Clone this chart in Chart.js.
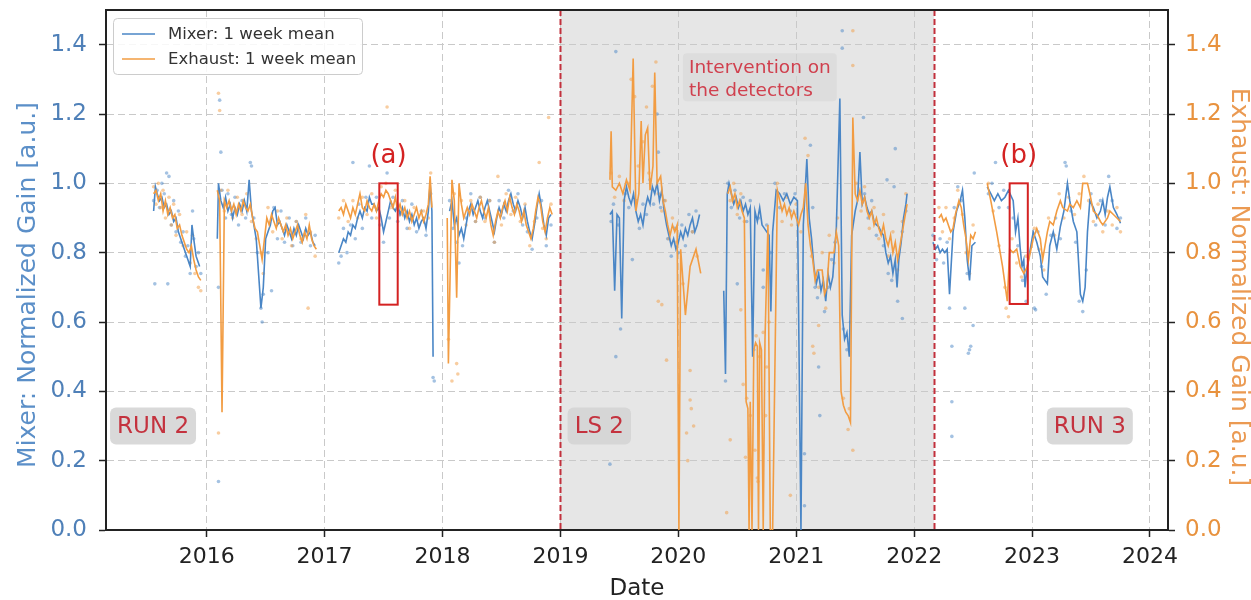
<!DOCTYPE html>
<html>
<head>
<meta charset="utf-8">
<script src="https://cdn.jsdelivr.net/npm/chart.js@4/dist/chart.umd.min.js"></script>
<style>
  html, body { margin: 0; padding: 0; background: #ffffff; }
  #wrap { width: 1251px; height: 600px; position: relative; }
</style>
</head>
<body>
<div id="wrap"><canvas id="gain" width="1251" height="600"></canvas></div>
<script>
// ---- weekly means, [decimal year, normalized gain] ----
const mixerMean2015 = [[2015.55,0.92],[2015.565,0.99],[2015.58,0.97],[2015.60,0.95],[2015.62,0.96],[2015.64,0.93],[2015.66,0.94],[2015.68,0.91],[2015.70,0.92],[2015.72,0.89],[2015.74,0.90],[2015.76,0.86],[2015.78,0.84],[2015.80,0.82],[2015.82,0.80],[2015.84,0.78],[2015.86,0.76],[2015.875,0.88],[2015.89,0.84],[2015.91,0.79],[2015.93,0.77],[2015.94,0.76]];
const mixerMean2016 = [[2016.09,0.84],[2016.10,1.0],[2016.12,0.95],[2016.14,0.93],[2016.16,0.96],[2016.18,0.92],[2016.20,0.94],[2016.22,0.90],[2016.24,0.93],[2016.26,0.91],[2016.28,0.94],[2016.30,0.92],[2016.32,0.95],[2016.34,0.92],[2016.36,1.01],[2016.38,0.92],[2016.40,0.88],[2016.42,0.84],[2016.44,0.74],[2016.46,0.64],[2016.48,0.70],[2016.50,0.84],[2016.52,0.86],[2016.54,0.88],[2016.56,0.92],[2016.58,0.93],[2016.60,0.88],[2016.62,0.89],[2016.64,0.87],[2016.66,0.85],[2016.68,0.88],[2016.70,0.86],[2016.72,0.84],[2016.74,0.87],[2016.76,0.85],[2016.78,0.88],[2016.80,0.86],[2016.82,0.84],[2016.84,0.87],[2016.86,0.85],[2016.88,0.86],[2016.90,0.83],[2016.92,0.82]];
const mixerMean2017 = [[2017.12,0.80],[2017.14,0.82],[2017.16,0.84],[2017.18,0.83],[2017.20,0.86],[2017.22,0.85],[2017.24,0.88],[2017.26,0.87],[2017.28,0.90],[2017.30,0.92],[2017.32,0.90],[2017.34,0.93],[2017.36,0.92],[2017.38,0.96],[2017.40,0.94],[2017.42,0.94],[2017.44,0.92],[2017.46,0.93],[2017.48,0.90],[2017.50,0.86],[2017.52,0.89],[2017.54,0.92],[2017.56,0.95],[2017.58,0.93],[2017.60,0.92],[2017.62,0.94],[2017.64,0.91],[2017.66,0.93],[2017.68,0.90],[2017.70,0.92],[2017.72,0.89],[2017.74,0.91],[2017.76,0.88],[2017.78,0.90],[2017.80,0.87],[2017.82,0.89],[2017.84,0.90],[2017.86,0.87],[2017.88,0.92],[2017.895,1.00],[2017.91,0.92],[2017.92,0.50]];
const mixerMean2018 = [[2018.06,0.92],[2018.08,0.95],[2018.10,0.88],[2018.12,0.90],[2018.14,0.85],[2018.16,0.87],[2018.18,0.84],[2018.20,0.88],[2018.22,0.92],[2018.24,0.94],[2018.26,0.91],[2018.28,0.93],[2018.30,0.95],[2018.32,0.92],[2018.34,0.90],[2018.36,0.93],[2018.38,0.95],[2018.40,0.92],[2018.42,0.89],[2018.44,0.86],[2018.46,0.90],[2018.48,0.93],[2018.50,0.91],[2018.52,0.94],[2018.54,0.92],[2018.56,0.95],[2018.58,0.97],[2018.60,0.94],[2018.62,0.92],[2018.64,0.95],[2018.66,0.93],[2018.68,0.90],[2018.70,0.93],[2018.72,0.89],[2018.74,0.86],[2018.76,0.84],[2018.78,0.88],[2018.80,0.93],[2018.82,0.97],[2018.84,0.93],[2018.86,0.88],[2018.88,0.85],[2018.90,0.90],[2018.92,0.91]];
const mixerMean2019 = [[2019.42,0.91],[2019.44,0.92],[2019.46,0.69],[2019.48,0.91],[2019.50,0.90],[2019.52,0.61],[2019.54,0.95],[2019.56,0.99],[2019.58,0.96],[2019.60,0.94],[2019.62,0.97],[2019.64,0.92],[2019.66,0.89],[2019.68,0.91],[2019.70,0.88],[2019.72,0.93],[2019.74,0.96],[2019.76,0.94],[2019.78,0.99],[2019.80,0.97],[2019.82,1.0],[2019.84,0.95],[2019.86,0.98],[2019.88,0.92],[2019.90,0.88],[2019.92,0.85],[2019.94,0.82],[2019.96,0.84],[2019.98,0.81],[2020.00,0.83],[2020.02,0.86],[2020.04,0.84],[2020.06,0.87],[2020.08,0.85],[2020.10,0.88],[2020.12,0.90],[2020.14,0.86],[2020.16,0.88],[2020.18,0.91]];
const mixerMean2020 = [[2020.385,0.69],[2020.40,0.45],[2020.415,0.97],[2020.43,1.0],[2020.45,0.97],[2020.47,0.94],[2020.49,0.96],[2020.51,0.93],[2020.53,0.95],[2020.55,0.92],[2020.57,0.94],[2020.59,0.91],[2020.61,0.93],[2020.63,0.50],[2020.65,0.92],[2020.67,0.89],[2020.69,0.93],[2020.71,0.88],[2020.73,0.87],[2020.75,0.86],[2020.77,0.85],[2020.785,0.63],[2020.80,0.86],[2020.83,0.98],[2020.86,0.97],[2020.89,0.95],[2020.92,0.97],[2020.95,0.94],[2020.98,0.96],[2021.01,0.95],[2021.04,0.0],[2021.06,0.88],[2021.09,1.07],[2021.11,0.90],[2021.13,0.84],[2021.15,0.76],[2021.17,0.71],[2021.19,0.74],[2021.21,0.69],[2021.23,0.72],[2021.25,0.66],[2021.27,0.74],[2021.29,0.70],[2021.31,0.73],[2021.34,0.87],[2021.37,1.245],[2021.39,0.62],[2021.41,0.55],[2021.43,0.57],[2021.45,0.50],[2021.47,0.85],[2021.50,0.92],[2021.52,0.95],[2021.54,1.09],[2021.56,0.94],[2021.58,0.96],[2021.60,0.93],[2021.62,0.91],[2021.64,0.92],[2021.66,0.89],[2021.68,0.88],[2021.70,0.875],[2021.72,0.86],[2021.74,0.85],[2021.76,0.80],[2021.78,0.77],[2021.80,0.79],[2021.82,0.74],[2021.84,0.78],[2021.855,0.70],[2021.87,0.78],[2021.89,0.83],[2021.91,0.90],[2021.93,0.94],[2021.94,0.97]];
const mixerMean2022a = [[2022.16,0.83],[2022.18,0.81],[2022.20,0.82],[2022.22,0.80],[2022.24,0.81],[2022.26,0.80],[2022.28,0.81],[2022.30,0.68],[2022.33,0.86],[2022.36,0.92],[2022.39,0.95],[2022.41,0.98],[2022.43,0.90],[2022.45,0.78],[2022.47,0.72],[2022.49,0.82],[2022.52,0.83]];
const mixerMean2022b = [[2022.62,0.99],[2022.65,0.97],[2022.68,0.95],[2022.71,0.97],[2022.74,0.95],[2022.77,0.96],[2022.80,0.98],[2022.84,0.95],[2022.86,0.86],[2022.88,0.90],[2022.90,0.81],[2022.915,0.76],[2022.93,0.78],[2022.94,0.70],[2022.96,0.76],[2023.01,0.86],[2023.04,0.83],[2023.07,0.79],[2023.09,0.73],[2023.13,0.71],[2023.15,0.82],[2023.18,0.86],[2023.21,0.81],[2023.24,0.875],[2023.27,0.92],[2023.30,1.0],[2023.32,0.95],[2023.35,0.89],[2023.38,0.86],[2023.41,0.68],[2023.43,0.66],[2023.45,0.70],[2023.47,0.86],[2023.49,0.95],[2023.52,0.93],[2023.55,0.90],[2023.58,0.92],[2023.60,0.95],[2023.62,0.91],[2023.64,0.96],[2023.66,0.99],[2023.69,0.93],[2023.72,0.91],[2023.75,0.885]];

const exhaustMean2015 = [[2015.55,0.97],[2015.57,0.98],[2015.59,0.95],[2015.61,0.97],[2015.63,0.92],[2015.65,0.95],[2015.67,0.91],[2015.69,0.93],[2015.71,0.90],[2015.73,0.91],[2015.75,0.87],[2015.77,0.88],[2015.79,0.85],[2015.81,0.83],[2015.83,0.81],[2015.85,0.80],[2015.87,0.82],[2015.89,0.78],[2015.91,0.75],[2015.93,0.73],[2015.95,0.72]];
const exhaustMean2016 = [[2016.09,0.98],[2016.11,0.95],[2016.13,0.34],[2016.15,0.95],[2016.17,0.93],[2016.19,0.95],[2016.21,0.92],[2016.23,0.94],[2016.25,0.91],[2016.27,0.94],[2016.29,0.92],[2016.31,0.95],[2016.33,0.93],[2016.35,0.92],[2016.37,0.94],[2016.39,0.90],[2016.41,0.87],[2016.43,0.86],[2016.45,0.82],[2016.47,0.78],[2016.49,0.84],[2016.51,0.90],[2016.53,0.88],[2016.55,0.91],[2016.57,0.89],[2016.59,0.87],[2016.61,0.90],[2016.63,0.88],[2016.65,0.86],[2016.67,0.88],[2016.69,0.85],[2016.71,0.87],[2016.73,0.84],[2016.75,0.86],[2016.77,0.88],[2016.79,0.85],[2016.81,0.83],[2016.83,0.86],[2016.85,0.84],[2016.87,0.88],[2016.89,0.84],[2016.91,0.82],[2016.93,0.81]];
const exhaustMean2017 = [[2017.12,0.92],[2017.14,0.93],[2017.16,0.91],[2017.18,0.94],[2017.20,0.92],[2017.22,0.90],[2017.24,0.93],[2017.26,0.91],[2017.28,0.94],[2017.30,0.97],[2017.32,0.93],[2017.34,0.92],[2017.36,0.95],[2017.38,0.93],[2017.40,0.92],[2017.42,0.94],[2017.44,0.92],[2017.46,0.95],[2017.48,0.97],[2017.50,0.96],[2017.52,0.98],[2017.54,0.97],[2017.56,0.95],[2017.58,0.93],[2017.60,0.96],[2017.62,0.92],[2017.64,0.94],[2017.66,0.91],[2017.68,0.93],[2017.70,0.90],[2017.72,0.92],[2017.74,0.89],[2017.76,0.91],[2017.78,0.93],[2017.80,0.90],[2017.82,0.92],[2017.84,0.89],[2017.86,0.91],[2017.88,0.94],[2017.895,1.02],[2017.91,0.93]];
const exhaustMean2018 = [[2018.04,0.90],[2018.05,0.48],[2018.08,1.01],[2018.10,0.95],[2018.12,0.67],[2018.14,1.00],[2018.16,0.94],[2018.18,0.90],[2018.21,0.93],[2018.23,0.91],[2018.25,0.94],[2018.27,0.92],[2018.29,0.90],[2018.31,0.93],[2018.33,0.95],[2018.35,0.92],[2018.37,0.90],[2018.39,0.93],[2018.41,0.88],[2018.43,0.85],[2018.45,0.89],[2018.47,0.92],[2018.49,0.90],[2018.51,0.93],[2018.53,0.95],[2018.55,0.92],[2018.57,0.96],[2018.59,0.93],[2018.61,0.91],[2018.63,0.94],[2018.65,0.92],[2018.67,0.89],[2018.69,0.92],[2018.71,0.88],[2018.73,0.86],[2018.75,0.84],[2018.77,0.87],[2018.79,0.92],[2018.81,0.96],[2018.83,0.94],[2018.85,0.89],[2018.87,0.86],[2018.89,0.90],[2018.91,0.93],[2018.93,0.91]];
const exhaustMean2019 = [[2019.42,1.01],[2019.43,1.15],[2019.44,0.99],[2019.47,0.98],[2019.50,1.0],[2019.53,0.97],[2019.56,1.01],[2019.59,0.98],[2019.617,1.36],[2019.64,0.92],[2019.665,0.97],[2019.685,1.18],[2019.70,1.0],[2019.72,1.14],[2019.74,1.16],[2019.76,0.98],[2019.785,1.05],[2019.80,1.32],[2019.82,1.0],[2019.85,1.02],[2019.87,0.95],[2019.89,0.92],[2019.91,0.88],[2019.93,0.85],[2019.95,0.88],[2019.97,0.86],[2019.99,0.88],[2020.005,0.0],[2020.02,0.81],[2020.06,0.62],[2020.10,0.76],[2020.15,0.81],[2020.19,0.74]];
const exhaustMean2020 = [[2020.42,0.97],[2020.44,0.99],[2020.46,0.95],[2020.48,0.97],[2020.50,0.93],[2020.52,0.95],[2020.54,0.92],[2020.56,0.90],[2020.575,0.37],[2020.59,0.35],[2020.60,0.0],[2020.61,0.37],[2020.625,0.0],[2020.64,0.52],[2020.655,0.54],[2020.67,0.53],[2020.68,0.0],[2020.69,0.54],[2020.705,0.52],[2020.72,0.0],[2020.735,0.55],[2020.76,0.88],[2020.78,0.0],[2020.80,0.0],[2020.84,0.98],[2020.86,0.95],[2020.88,0.92],[2020.90,0.94],[2020.92,0.91],[2020.94,0.93],[2020.96,0.90],[2020.98,0.92],[2021.00,0.90],[2021.02,0.88],[2021.04,0.91],[2021.06,0.93],[2021.08,1.0],[2021.10,0.88],[2021.12,0.82],[2021.14,0.78],[2021.16,0.72],[2021.18,0.75],[2021.20,0.75],[2021.22,0.75],[2021.24,0.68],[2021.26,0.70],[2021.28,0.80],[2021.30,0.80],[2021.32,0.80],[2021.34,0.86],[2021.36,0.82],[2021.38,0.40],[2021.40,0.36],[2021.42,0.34],[2021.44,0.33],[2021.46,0.31],[2021.48,1.19],[2021.50,0.97],[2021.52,0.95],[2021.54,0.98],[2021.56,0.94],[2021.58,0.96],[2021.60,0.92],[2021.62,0.90],[2021.64,0.92],[2021.66,0.88],[2021.68,0.90],[2021.70,0.87],[2021.72,0.85],[2021.74,0.88],[2021.76,0.84],[2021.78,0.82],[2021.80,0.85],[2021.82,0.80],[2021.84,0.83],[2021.86,0.78],[2021.88,0.82],[2021.90,0.86],[2021.92,0.90],[2021.94,0.94]];
const exhaustMean2022a = [[2022.21,0.90],[2022.23,0.91],[2022.25,0.89],[2022.27,0.90],[2022.29,0.88],[2022.31,0.86],[2022.33,0.87],[2022.35,0.91],[2022.38,0.95],[2022.40,0.93],[2022.42,0.88],[2022.44,0.84],[2022.46,0.78],[2022.48,0.85],[2022.50,0.84],[2022.52,0.86]];
const exhaustMean2022b = [[2022.62,1.0],[2022.65,0.95],[2022.70,0.86],[2022.75,0.76],[2022.79,0.66],[2022.81,0.81],[2022.84,0.80],[2022.87,0.81],[2022.90,0.76],[2022.93,0.74],[2022.96,0.76],[2023.01,0.84],[2023.04,0.87],[2023.07,0.84],[2023.09,0.78],[2023.13,0.86],[2023.15,0.89],[2023.18,0.88],[2023.21,0.92],[2023.24,0.95],[2023.26,0.93],[2023.30,0.92],[2023.32,0.94],[2023.35,0.93],[2023.38,0.95],[2023.41,0.93],[2023.43,1.0],[2023.47,1.0],[2023.49,0.97],[2023.52,0.92],[2023.55,0.91],[2023.58,0.89],[2023.60,0.88],[2023.64,0.90],[2023.66,0.92],[2023.69,0.91],[2023.72,0.90],[2023.75,0.89]];

// ---- single measurements, [decimal year, normalized gain] ----
const mixerDaily = [
  [2015.55,0.95],[2015.56,0.71],[2015.58,0.98],[2015.60,0.93],[2015.62,1.0],[2015.64,0.97],[2015.66,1.03],[2015.67,0.71],[2015.68,1.02],[2015.70,0.88],[2015.72,0.95],[2015.74,0.86],[2015.76,0.92],[2015.78,0.83],[2015.80,0.86],[2015.82,0.79],[2015.84,0.82],[2015.86,0.74],[2015.88,0.92],[2015.89,0.84],[2015.91,0.76],[2015.93,0.80],[2015.95,0.74],
  [2016.10,0.14],[2016.10,0.70],[2016.11,1.24],[2016.12,1.09],[2016.13,0.98],[2016.16,0.90],[2016.18,0.97],[2016.21,0.91],[2016.24,0.96],[2016.27,0.88],[2016.30,0.95],[2016.33,0.90],[2016.37,1.06],[2016.38,1.05],[2016.40,0.90],[2016.43,0.80],[2016.46,0.64],[2016.47,0.60],[2016.48,0.68],[2016.52,0.80],[2016.55,0.69],[2016.57,0.93],[2016.60,0.84],[2016.63,0.92],[2016.66,0.83],[2016.70,0.90],[2016.73,0.82],[2016.76,0.89],[2016.80,0.83],[2016.84,0.90],[2016.88,0.82],[2016.92,0.85],
  [2017.12,0.77],[2017.14,0.79],[2017.16,0.87],[2017.19,0.80],[2017.22,0.88],[2017.24,1.06],[2017.26,0.84],[2017.29,0.94],[2017.32,0.87],[2017.35,0.96],[2017.38,1.05],[2017.40,0.90],[2017.44,0.96],[2017.47,0.88],[2017.50,0.83],[2017.53,1.03],[2017.55,0.90],[2017.58,0.96],[2017.62,0.89],[2017.66,0.95],[2017.70,0.87],[2017.74,0.94],[2017.78,0.86],[2017.82,0.92],[2017.86,0.85],[2017.90,0.97],[2017.92,0.44],[2017.93,0.43],
  [2018.06,0.95],[2018.09,0.87],[2018.12,0.83],[2018.14,0.77],[2018.17,0.82],[2018.20,0.90],[2018.24,0.97],[2018.28,0.89],[2018.32,0.96],[2018.36,0.90],[2018.40,0.95],[2018.44,0.83],[2018.48,0.95],[2018.52,0.90],[2018.56,0.98],[2018.60,0.92],[2018.64,0.97],[2018.68,0.88],[2018.72,0.86],[2018.76,0.81],[2018.80,0.90],[2018.84,0.95],[2018.88,0.82],[2018.92,0.88],
  [2019.42,0.19],[2019.43,0.89],[2019.45,0.94],[2019.47,0.50],[2019.49,0.88],[2019.51,0.58],[2019.47,1.38],[2019.55,0.97],[2019.58,0.93],[2019.61,0.78],[2019.64,0.95],[2019.67,0.87],[2019.70,0.94],[2019.73,0.91],[2019.76,1.01],[2019.79,0.94],[2019.82,1.20],[2019.83,1.09],[2019.85,0.93],[2019.88,0.95],[2019.91,0.84],[2019.94,0.79],[2019.97,0.87],[2020.00,0.80],[2020.03,0.88],[2020.06,0.82],[2020.09,0.91],[2020.12,0.86],[2020.15,0.92],
  [2020.40,0.43],[2020.42,1.0],[2020.45,0.93],[2020.48,0.98],[2020.50,0.71],[2020.52,0.90],[2020.55,0.96],[2020.58,0.89],[2020.61,0.95],[2020.64,0.52],[2020.68,0.90],[2020.72,0.75],[2020.72,0.70],[2020.75,0.88],[2020.78,0.80],[2020.82,1.0],[2020.86,0.93],[2020.90,0.97],[2020.95,0.92],[2020.99,0.97],
  [2021.07,0.22],[2021.07,0.07],[2021.12,1.11],[2021.14,0.93],[2021.16,0.70],[2021.18,0.67],[2021.19,0.47],[2021.20,0.33],[2021.24,0.63],[2021.27,0.70],[2021.30,0.78],[2021.33,0.83],[2021.39,1.44],[2021.39,1.39],[2021.40,0.58],[2021.43,0.52],[2021.46,0.60],[2021.57,1.19],[2021.58,0.97],[2021.61,0.90],[2021.64,0.95],[2021.68,0.85],[2021.77,1.01],[2021.74,0.82],[2021.84,1.10],[2021.78,0.74],[2021.81,0.72],[2021.83,0.99],[2021.86,0.66],[2021.90,0.61],[2021.90,0.86],[2021.93,0.92],
  [2022.16,0.85],[2022.19,0.78],[2022.22,0.84],[2022.25,0.77],[2022.28,0.83],[2022.32,0.53],[2022.32,0.37],[2022.32,0.27],[2022.30,0.64],[2022.34,0.93],[2022.37,0.99],[2022.40,0.95],[2022.43,0.64],[2022.45,0.74],[2022.46,0.51],[2022.47,0.52],[2022.48,0.53],[2022.50,0.59],[2022.51,1.03],
  [2022.63,0.97],[2022.66,1.0],[2022.69,1.06],[2022.72,0.93],[2022.76,0.98],[2022.80,0.93],[2022.84,0.90],[2022.88,0.82],[2022.92,0.72],[2022.95,0.66],[2023.02,0.64],[2023.03,0.635],[2023.05,0.86],[2023.08,0.76],[2023.12,0.68],[2023.16,0.85],[2023.20,0.90],[2023.24,0.84],[2023.28,1.06],[2023.29,1.05],[2023.33,0.92],[2023.37,0.83],[2023.40,0.66],[2023.43,0.63],[2023.46,0.75],[2023.50,0.97],[2023.54,0.88],[2023.58,0.95],[2023.62,0.88],[2023.65,1.02],[2023.68,0.95],[2023.72,0.87],[2023.75,0.90]
];
const exhaustDaily = [
  [2015.55,0.99],[2015.57,0.94],[2015.59,1.0],[2015.61,0.93],[2015.63,0.98],[2015.65,0.90],[2015.68,0.96],[2015.70,0.88],[2015.72,0.94],[2015.74,0.85],[2015.77,0.91],[2015.80,0.82],[2015.83,0.86],[2015.86,0.77],[2015.88,0.85],[2015.90,0.74],[2015.93,0.70],[2015.95,0.69],
  [2016.10,1.26],[2016.11,1.21],[2016.10,0.28],[2016.12,0.98],[2016.15,0.92],[2016.18,0.98],[2016.22,0.90],[2016.26,0.96],[2016.30,0.91],[2016.34,0.97],[2016.38,0.89],[2016.42,0.84],[2016.46,0.80],[2016.48,0.74],[2016.52,0.93],[2016.56,0.86],[2016.60,0.92],[2016.64,0.84],[2016.68,0.90],[2016.72,0.82],[2016.76,0.89],[2016.80,0.84],[2016.84,0.91],[2016.86,0.64],[2016.88,0.86],[2016.92,0.79],
  [2017.12,0.90],[2017.16,0.95],[2017.20,0.89],[2017.24,0.95],[2017.28,0.90],[2017.32,0.96],[2017.36,0.91],[2017.40,0.97],[2017.44,0.90],[2017.48,0.99],[2017.52,1.0],[2017.53,1.22],[2017.56,0.93],[2017.60,0.98],[2017.64,0.91],[2017.68,0.95],[2017.72,0.87],[2017.76,0.93],[2017.80,0.88],[2017.84,0.92],[2017.88,0.90],[2017.90,1.03],
  [2018.05,0.55],[2018.08,0.43],[2018.12,0.48],[2018.13,0.45],[2018.10,0.97],[2018.16,0.95],[2018.20,0.88],[2018.24,0.95],[2018.28,0.89],[2018.32,0.96],[2018.36,0.89],[2018.40,0.95],[2018.44,0.83],[2018.47,1.02],[2018.50,0.88],[2018.54,0.97],[2018.58,0.91],[2018.62,0.96],[2018.66,0.89],[2018.70,0.94],[2018.74,0.82],[2018.78,0.89],[2018.82,1.06],[2018.85,0.87],[2018.88,0.84],[2018.90,1.19],[2018.92,0.94],
  [2019.43,1.03],[2019.46,0.96],[2019.50,1.02],[2019.54,0.95],[2019.58,1.0],[2019.60,1.30],[2019.63,1.25],[2019.66,1.05],[2019.70,1.12],[2019.73,1.22],[2019.75,1.03],[2019.78,1.28],[2019.81,1.35],[2019.83,0.97],[2019.86,0.92],[2019.89,0.95],[2019.92,0.84],[2019.95,0.90],[2019.98,0.83],[2019.83,0.66],[2019.86,0.65],[2019.90,0.49],
  [2020.10,0.46],[2020.10,0.375],[2020.11,0.35],[2020.13,0.30],[2020.07,0.28],[2020.08,0.20],[2020.04,0.71],[2020.12,0.86],[2020.16,0.79],
  [2020.41,0.05],[2020.44,0.26],[2020.44,0.95],[2020.47,1.0],[2020.50,0.91],[2020.53,0.97],[2020.56,0.89],[2020.53,0.635],[2020.55,0.42],[2020.57,0.21],[2020.58,0.38],[2020.61,0.33],[2020.65,0.23],[2020.67,0.15],[2020.675,0.14],[2020.66,0.56],[2020.69,0.50],[2020.75,0.47],[2020.72,0.57],[2020.74,0.33],[2020.77,0.60],[2020.95,0.10],[2020.84,1.0],[2020.88,0.89],[2020.92,0.96],[2020.96,0.88],[2021.00,0.94],[2021.04,0.86],
  [2021.075,1.13],[2021.10,1.08],[2021.13,0.79],[2021.14,0.53],[2021.15,0.51],[2021.19,0.59],[2021.19,0.70],[2021.22,0.80],[2021.25,0.64],[2021.28,0.85],[2021.32,0.77],[2021.35,0.90],[2021.40,0.38],[2021.44,0.29],[2021.45,0.35],[2021.48,0.23],[2021.48,1.44],[2021.48,1.34],[2021.51,1.0],[2021.55,0.92],[2021.58,0.99],[2021.62,0.87],[2021.66,0.93],[2021.70,0.84],[2021.74,0.91],[2021.78,0.79],[2021.82,0.86],[2021.86,0.75],[2021.90,0.89],[2021.93,0.97],
  [2022.21,0.93],[2022.24,0.86],[2022.27,0.93],[2022.30,0.84],[2022.34,0.90],[2022.37,0.98],[2022.41,0.91],[2022.44,0.80],[2022.47,0.74],[2022.50,0.88],
  [2022.63,1.0],[2022.67,0.92],[2022.72,0.82],[2022.77,0.70],[2022.78,0.64],[2022.80,0.615],[2022.83,0.84],[2022.87,0.77],[2022.91,0.73],[2022.95,0.79],[2023.02,0.87],[2023.06,0.81],[2023.10,0.75],[2023.14,0.90],[2023.19,0.85],[2023.23,0.97],[2023.27,0.90],[2023.31,0.96],[2023.36,0.91],[2023.40,0.97],[2023.44,1.02],[2023.48,0.95],[2023.52,0.89],[2023.56,0.94],[2023.60,0.86],[2023.64,0.92],[2023.68,0.88],[2023.72,0.93],[2023.75,0.86]
];

// ---- axes and annotated periods ----
const X_MIN = 2015.146, X_MAX = 2024.153;
const Y_MIN = 0, Y_MAX = 1.5;
const LS2_START = 2019.0, LS2_END = 2022.17;
const periodLabels = [
  { text: 'RUN 2', x: 2015.545, y: 0.30 },
  { text: 'LS 2',  x: 2019.33,  y: 0.30 },
  { text: 'RUN 3', x: 2023.49,  y: 0.30 }
];
const interventionText = ['Intervention on', 'the detectors'];
const interventionAt = { x: 2020.09, y: 1.332 };
const zoomBoxes = [
  { tag: '(a)', x0: 2017.464, x1: 2017.62, y0: 0.65, y1: 1.0 },
  { tag: '(b)', x0: 2022.81,  x1: 2022.964, y0: 0.652, y1: 1.0 }
];
const leftTitle = 'Mixer: Normalized Gain [a.u.]';
const rightTitle = 'Exhaust: Normalized Gain [a.u.]';

const FONT = "'DejaVu Sans', 'Liberation Sans', sans-serif";
const BLUE = '#4a86c6', ORANGE = '#f29c42';

function joinRuns(...runs) {
  const out = [];
  runs.forEach((run, i) => {
    if (i > 0) out.push({ x: (runs[i - 1][runs[i - 1].length - 1][0] + run[0][0]) / 2, y: null });
    run.forEach(([x, y]) => out.push({ x, y }));
  });
  return out;
}
const asPoints = arr => arr.map(([x, y]) => ({ x, y }));

function roundBox(ctx, x, y, w, h, r) {
  ctx.beginPath();
  ctx.moveTo(x + r, y);
  ctx.lineTo(x + w - r, y); ctx.arcTo(x + w, y, x + w, y + r, r);
  ctx.lineTo(x + w, y + h - r); ctx.arcTo(x + w, y + h, x + w - r, y + h, r);
  ctx.lineTo(x + r, y + h); ctx.arcTo(x, y + h, x, y + h - r, r);
  ctx.lineTo(x, y + r); ctx.arcTo(x, y, x + r, y, r);
  ctx.closePath();
}

// keeps the plot area where the axis widths put it
function noEdgePadding(s) {
  s.paddingTop = 0; s.paddingBottom = 0; s.paddingLeft = 0; s.paddingRight = 0;
}

const decor = {
  id: 'decor',
  beforeDraw(chart) {
    const { ctx, chartArea: a, scales: { x } } = chart;
    const x0 = x.getPixelForValue(LS2_START), x1 = x.getPixelForValue(LS2_END);
    ctx.save();
    ctx.fillStyle = '#e6e6e6';
    ctx.fillRect(x0, a.top, x1 - x0, a.bottom - a.top);
    ctx.restore();
  },
  afterDatasetsDraw(chart) {
    const { ctx, chartArea: a, scales: { x, y } } = chart;
    ctx.save();
    // boundaries of the long shutdown
    ctx.strokeStyle = '#c2303c';
    ctx.lineWidth = 2;
    ctx.setLineDash([6, 3]);
    [LS2_START, LS2_END].forEach(v => {
      const px = Math.round(x.getPixelForValue(v)) + 0.5;
      ctx.beginPath(); ctx.moveTo(px, a.top); ctx.lineTo(px, a.bottom); ctx.stroke();
    });
    ctx.setLineDash([]);

    // period labels
    ctx.font = '23px ' + FONT;
    ctx.textBaseline = 'middle';
    ctx.textAlign = 'center';
    periodLabels.forEach(p => {
      const cx = x.getPixelForValue(p.x), cy = y.getPixelForValue(p.y);
      const w = ctx.measureText(p.text).width + 14, h = 37;
      ctx.fillStyle = 'rgba(210,210,210,0.85)';
      roundBox(ctx, cx - w / 2, cy - h / 2, w, h, 6);
      ctx.fill();
      ctx.fillStyle = '#c4323e';
      ctx.fillText(p.text, cx, cy + 1);
    });

    // intervention note
    ctx.font = '18.5px ' + FONT;
    ctx.textAlign = 'left';
    const ix = x.getPixelForValue(interventionAt.x), iy = y.getPixelForValue(interventionAt.y);
    const iw = Math.max(...interventionText.map(t => ctx.measureText(t).width));
    ctx.fillStyle = 'rgba(215,215,215,0.6)';
    roundBox(ctx, ix - 6, iy - 15, iw + 12, 48, 4);
    ctx.fill();
    ctx.fillStyle = '#d0404e';
    interventionText.forEach((t, i) => ctx.fillText(t, ix, iy + i * 22.5));

    // highlighted windows
    ctx.strokeStyle = '#d42222';
    ctx.lineWidth = 2;
    ctx.font = '26px ' + FONT;
    ctx.textAlign = 'center';
    ctx.textBaseline = 'alphabetic';
    ctx.fillStyle = '#d42222';
    zoomBoxes.forEach(b => {
      const px0 = x.getPixelForValue(b.x0), px1 = x.getPixelForValue(b.x1);
      const py0 = y.getPixelForValue(b.y1), py1 = y.getPixelForValue(b.y0);
      ctx.strokeRect(px0, py0, px1 - px0, py1 - py0);
      ctx.fillText(b.tag, (px0 + px1) / 2, py0 - 20);
    });

    // top frame edge
    ctx.strokeStyle = '#222';
    ctx.lineWidth = 2;
    ctx.beginPath(); ctx.moveTo(a.left, a.top); ctx.lineTo(a.right, a.top); ctx.stroke();

    // legend
    const lx = a.left + 7, ly = a.top + 8;
    ctx.fillStyle = 'rgba(255,255,255,0.85)';
    ctx.strokeStyle = '#cccccc';
    ctx.lineWidth = 1;
    roundBox(ctx, lx + 0.5, ly + 0.5, 249, 56, 4);
    ctx.fill(); ctx.stroke();
    ctx.font = '16.5px ' + FONT;
    ctx.textAlign = 'left';
    ctx.textBaseline = 'middle';
    [['Mixer: 1 week mean', BLUE], ['Exhaust: 1 week mean', ORANGE]].forEach(([t, c], i) => {
      const yy = ly + 16 + i * 25;
      ctx.strokeStyle = c; ctx.lineWidth = 1.6;
      ctx.beginPath(); ctx.moveTo(lx + 9, yy); ctx.lineTo(lx + 42, yy); ctx.stroke();
      ctx.fillStyle = '#333';
      ctx.fillText(t, lx + 55, yy + 1);
    });

    // vertical axis titles
    ctx.font = '25px ' + FONT;
    ctx.textAlign = 'center';
    ctx.textBaseline = 'middle';
    ctx.save();
    ctx.translate(28, 285);
    ctx.rotate(-Math.PI / 2);
    ctx.fillStyle = '#5b8fc8';
    ctx.fillText(leftTitle, 0, 0);
    ctx.restore();
    ctx.save();
    ctx.translate(1238, 287);
    ctx.rotate(Math.PI / 2);
    ctx.fillStyle = '#eb9a52';
    ctx.fillText(rightTitle, 0, 0);
    ctx.restore();
    ctx.restore();
  }
};

const tickFont = { family: FONT, size: 22 };
const yTickFont = { family: FONT, size: 23 };
const titleFont = { family: FONT, size: 23 };

new Chart(document.getElementById('gain'), {
  type: 'line',
  data: {
    datasets: [
      {
        label: 'Mixer: 1 week mean',
        data: joinRuns(mixerMean2015, mixerMean2016, mixerMean2017, mixerMean2018, mixerMean2019, mixerMean2020, mixerMean2022a, mixerMean2022b),
        borderColor: BLUE, borderWidth: 1.6, pointRadius: 0, tension: 0, spanGaps: false,
        yAxisID: 'y', order: 1
      },
      {
        label: 'Exhaust: 1 week mean',
        data: joinRuns(exhaustMean2015, exhaustMean2016, exhaustMean2017, exhaustMean2018, exhaustMean2019, exhaustMean2020, exhaustMean2022a, exhaustMean2022b),
        borderColor: ORANGE, borderWidth: 1.6, pointRadius: 0, tension: 0, spanGaps: false,
        yAxisID: 'y2', order: 0
      },
      {
        label: 'Mixer daily',
        data: asPoints(mixerDaily),
        showLine: false, pointRadius: 1.8, pointBorderWidth: 0,
        pointBackgroundColor: 'rgba(74,134,198,0.5)',
        yAxisID: 'y', order: 3
      },
      {
        label: 'Exhaust daily',
        data: asPoints(exhaustDaily),
        showLine: false, pointRadius: 1.8, pointBorderWidth: 0,
        pointBackgroundColor: 'rgba(242,156,66,0.5)',
        yAxisID: 'y2', order: 2
      }
    ]
  },
  options: {
    responsive: false,
    animation: false,
    devicePixelRatio: 1,
    layout: { padding: { top: 10, left: 0, right: 0, bottom: 0 } },
    plugins: { legend: { display: false }, tooltip: { enabled: false } },
    scales: {
      x: {
        type: 'linear', min: X_MIN, max: X_MAX,
        afterFit: s => { s.height = 70; noEdgePadding(s); },
        ticks: { stepSize: 1, includeBounds: false, autoSkip: false, maxRotation: 0,
                 callback: v => String(Math.round(v)), color: '#222', font: tickFont, padding: 7 },
        grid: { color: '#c9c9c9', lineWidth: 1, tickLength: 7, tickColor: '#222', tickWidth: 1.5 },
        border: { color: '#222', width: 2, dash: [7, 4] },
        title: { display: true, text: 'Date', color: '#222', font: titleFont, padding: { top: 0, bottom: -3 } }
      },
      y: {
        type: 'linear', position: 'left', min: Y_MIN, max: Y_MAX,
        afterFit: s => { s.width = 106; noEdgePadding(s); },
        ticks: { stepSize: 0.2, includeBounds: false, callback: v => v.toFixed(1), color: '#4f80b8', font: yTickFont, padding: 12 },
        grid: { color: '#c9c9c9', lineWidth: 1, tickLength: 7, tickColor: '#222', tickWidth: 1.5 },
        border: { color: '#222', width: 2, dash: [7, 4] },
        title: { display: false }
      },
      y2: {
        type: 'linear', position: 'right', min: Y_MIN, max: Y_MAX,
        afterFit: s => { s.width = 83; noEdgePadding(s); },
        ticks: { stepSize: 0.2, includeBounds: false, callback: v => v.toFixed(1), color: '#e8923e', font: yTickFont, padding: 10 },
        grid: { drawOnChartArea: false, tickLength: 7, tickColor: '#222', tickWidth: 1.5 },
        border: { color: '#222', width: 2 },
        title: { display: false }
      }
    }
  },
  plugins: [decor]
});
</script>
</body>
</html>
